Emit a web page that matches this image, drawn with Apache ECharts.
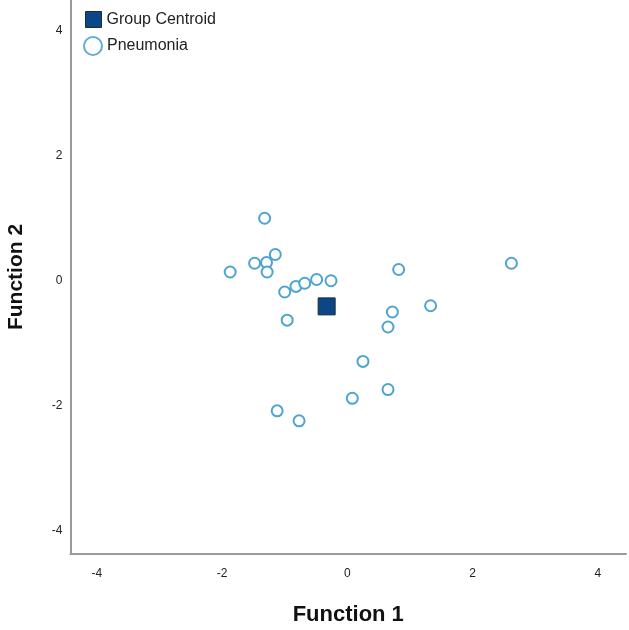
<!DOCTYPE html>
<html>
<head>
<meta charset="utf-8">
<script src="https://cdn.jsdelivr.net/npm/echarts@6/dist/echarts.min.js"></script>
<style>
  html, body { margin: 0; padding: 0; background: #fff; }
  #chart { width: 629px; height: 630px; }
</style>
</head>
<body>
<div id="chart"></div>
<script>
// discriminant scores, Pneumonia group
const pneumoniaX = [-1.32, -1.15, -1.48, -1.29, -1.28, -1.87, -1.00, -0.82, -0.68, -0.49, -0.26,
  0.82, 1.33, 0.72, 0.65, -0.96, 0.25, 0.65, 0.08, -1.12, -0.77, 2.62]
const pneumoniaY = [1.00, 0.42, 0.28, 0.29, 0.14, 0.14, -0.18, -0.09, -0.04, 0.02, 0.00,
  0.18, -0.40, -0.50, -0.74, -0.63, -1.29, -1.74, -1.88, -2.08, -2.24, 0.28]
// group centroid
const centroidX = [-0.33]
const centroidY = [-0.41]
// tick labels on both axes
const tickValues = [-4, -2, 0, 2, 4]

const font = 'Liberation Sans, Arial, sans-serif'
const axisColor = '#9a9a9a'

const chart = echarts.init(document.getElementById('chart'))

let pneumoniaData = pneumoniaX.map((x, i) => [x, pneumoniaY[i]])
let centroidData = centroidX.map((x, i) => [x, centroidY[i]])

function axis(min, max, name, nameGap, nameSize, labelMargin) {
  return {
    type: 'value',
    min: min,
    max: max,
    name: name,
    nameLocation: 'middle',
    nameGap: nameGap,
    nameTextStyle: { fontFamily: font, fontSize: nameSize, fontWeight: 'bold', color: '#111' },
    axisLine: { show: true, onZero: false, lineStyle: { color: axisColor, width: 2 } },
    axisTick: { show: false },
    splitLine: { show: false },
    axisLabel: {
      customValues: tickValues,
      margin: labelMargin,
      fontFamily: font,
      fontSize: 12,
      color: '#222'
    }
  }
}

let option = {
  animation: false,
  backgroundColor: '#fff',
  // keep the grid where it is, names sit outside it
  grid: { left: 70.5, right: 3, top: 0, bottom: 76, outerBoundsMode: 'none', containLabel: false },
  xAxis: axis(-4.42, 4.45, 'Function 1', 50, 22, 14),
  yAxis: axis(-4.37, 4.49, 'Function 2', 44, 21, 8),
  legend: [{
    left: 85, top: 11, orient: 'vertical', padding: 0,
    itemWidth: 16, itemHeight: 16,
    textStyle: { fontFamily: font, fontSize: 16, color: '#222' },
    data: [{
      name: 'Group Centroid', icon: 'rect',
      itemStyle: { color: '#0b4787', borderColor: '#1c2b3c', borderWidth: 1, opacity: 1 }
    }]
  }, {
    left: 83, top: 36, orient: 'vertical', padding: 0,
    itemWidth: 18, itemHeight: 18,
    textStyle: { fontFamily: font, fontSize: 16, color: '#222' },
    data: [{
      name: 'Pneumonia', icon: 'circle',
      itemStyle: { color: '#fff', borderColor: '#62acd6', borderWidth: 2, opacity: 1 }
    }]
  }],
  series: [{
    name: 'Pneumonia',
    type: 'scatter',
    symbol: 'circle',
    symbolSize: 11,
    itemStyle: { color: '#fff', borderColor: '#4ea5cf', borderWidth: 2, opacity: 1 },
    data: pneumoniaData
  }, {
    name: 'Group Centroid',
    type: 'scatter',
    symbol: 'rect',
    symbolSize: 17,
    itemStyle: { color: '#0b4787', borderColor: '#1c2b3c', borderWidth: 1, opacity: 1 },
    data: centroidData,
    z: 3
  }]
}

chart.setOption(option)
</script>
</body>
</html>
